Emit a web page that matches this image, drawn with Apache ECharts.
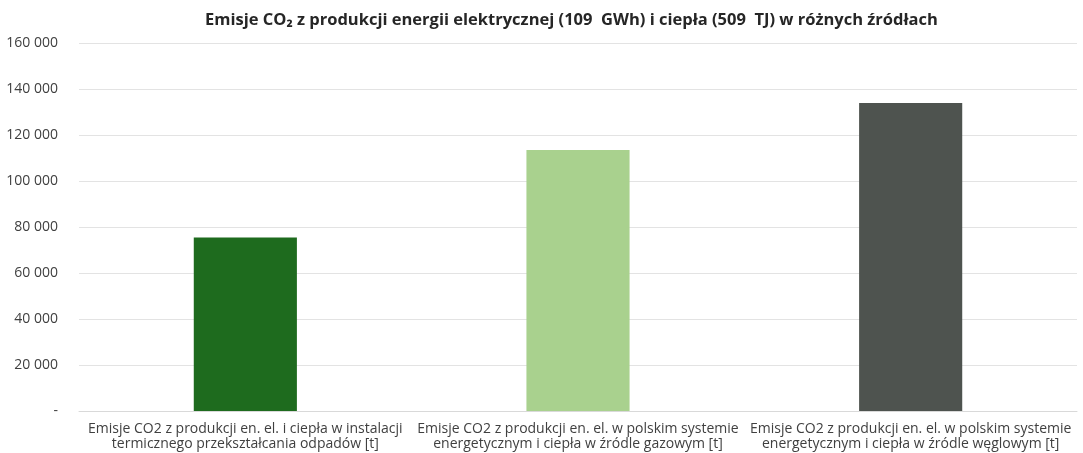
<!DOCTYPE html>
<html><head><meta charset="utf-8">
<script src="https://cdn.jsdelivr.net/npm/echarts@6/dist/echarts.min.js"></script>
<style>html,body{margin:0;padding:0;background:#fff}#c{width:1083px;height:453px}</style>
</head><body><div id="c"></div>
<script>
const titleText = 'Emisje CO₂ z produkcji energii elektrycznej (109  GWh) i ciepła (509  TJ) w różnych źródłach';
const categories = [
  'Emisje CO2 z produkcji en. el. i ciepła w instalacji\ntermicznego przekształcania odpadów [t]',
  'Emisje CO2 z produkcji en. el. w polskim systemie\nenergetycznym i ciepła w źródle gazowym [t]',
  'Emisje CO2 z produkcji en. el. w polskim systemie\nenergetycznym i ciepła w źródle węglowym [t]'
];
const values = [75400, 113500, 133900];
const barColors = ['#1e6b1e', '#a9d18e', '#4e534f'];

const chart = echarts.init(document.getElementById('c'));
chart.setOption({
  animation: false,
  title: {
    text: titleText, left: 200, top: 7,
    textStyle: {fontFamily: 'Open Sans', fontWeight: 'bold', fontSize: 16.5, color: '#262626'}
  },
  grid: {left: 79, right: 6, top: 43, bottom: 42, containLabel: false, outerBoundsMode: 'none'},
  xAxis: {
    type: 'category', data: categories,
    axisLine: {show: true, lineStyle: {color: '#d9d9d9'}},
    axisTick: {show: false},
    axisLabel: {interval: 0, fontFamily: 'Open Sans', fontSize: 14, color: '#404040', lineHeight: 15, margin: 11}
  },
  yAxis: {
    type: 'value', min: 0, max: 160000, interval: 20000,
    axisLine: {show: false}, axisTick: {show: false},
    splitLine: {lineStyle: {color: '#e3e3e3'}},
    axisLabel: {
      fontFamily: 'Open Sans', fontSize: 14, color: '#404040', margin: 21,
      formatter: v => v === 0 ? '-' : String(v).replace(/\B(?=(\d{3})+(?!\d))/g, ' ')
    }
  },
  series: [{
    type: 'bar', data: values.map((v, i) => ({value: v, itemStyle: {color: barColors[i]}})),
    barWidth: '31%'
  }]
});
</script></body></html>
